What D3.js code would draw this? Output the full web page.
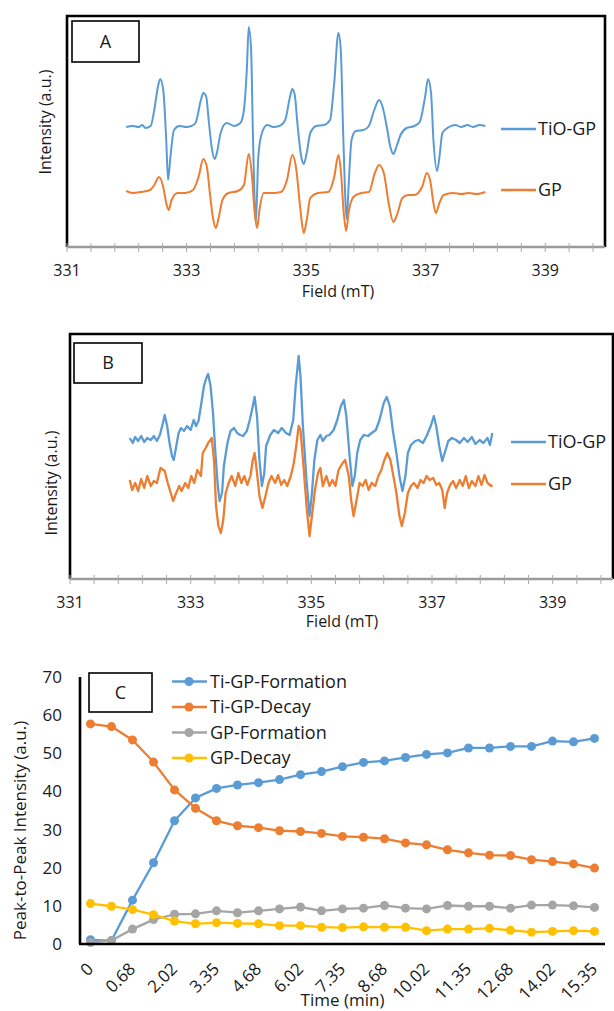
<!DOCTYPE html>
<html>
<head>
<meta charset="utf-8">
<script src="https://cdn.jsdelivr.net/npm/d3@7"></script>
<style>
  html, body { margin: 0; padding: 0; background: #fff; }
  svg text { font-family: "Open Sans", "DejaVu Sans", sans-serif; fill: #1a1a1a; }
</style>
</head>
<body>
<div id="chart"></div>
<script>
// ---- data ----
const fieldTicks = [331, 333, 335, 337, 339];
const seriesNamesAB = ['TiO-GP', 'GP'];

// Panel A spectra: [field (mT), intensity (a.u., offset included)]
const tioGpA = [[331.99,120],[332.10,121],[332.20,120],[332.26,122],[332.31,119],[332.40,121],[332.46,137],[332.52,160],[332.56,168],[332.61,157],[332.66,107],[332.69,67],[332.73,90],[332.79,117],[332.88,121],[333.00,120],[333.08,121],[333.15,124],[333.24,147],[333.28,154],[333.33,150],[333.37,127],[333.42,100],[333.47,88],[333.51,95],[333.57,114],[333.67,124],[333.80,121],[333.90,124],[333.96,137],[334.01,180],[334.04,220],[334.08,197],[334.11,113],[334.16,25],[334.20,90],[334.26,114],[334.35,122],[334.45,120],[334.55,121],[334.65,127],[334.73,150],[334.77,158],[334.81,152],[334.86,120],[334.92,90],[334.96,83],[335.01,94],[335.07,114],[335.17,121],[335.30,122],[335.40,127],[335.47,164],[335.54,214],[335.58,197],[335.62,114],[335.68,28],[335.71,60],[335.76,107],[335.83,116],[335.96,117],[336.05,121],[336.14,137],[336.22,147],[336.28,140],[336.35,120],[336.41,100],[336.46,93],[336.51,100],[336.58,112],[336.68,119],[336.81,121],[336.90,125],[336.99,150],[337.04,168],[337.09,154],[337.13,107],[337.19,76],[337.23,90],[337.28,114],[337.39,120],[337.50,122],[337.59,120],[337.70,122],[337.79,120],[337.90,122],[338.00,121]];

const gpA = [[331.99,56],[332.10,54],[332.23,55],[332.39,57],[332.46,62],[332.54,70],[332.61,60],[332.66,44],[332.70,37],[332.75,47],[332.85,54],[332.98,54],[333.11,57],[333.20,70],[333.28,88],[333.34,80],[333.39,54],[333.44,30],[333.49,19],[333.54,30],[333.60,47],[333.70,54],[333.86,56],[333.96,62],[334.04,93],[334.09,74],[334.14,34],[334.18,19],[334.22,37],[334.29,54],[334.45,54],[334.58,55],[334.68,67],[334.77,92],[334.83,80],[334.90,40],[334.96,14],[335.01,27],[335.07,49],[335.20,54],[335.37,55],[335.47,70],[335.54,92],[335.58,77],[335.63,34],[335.67,16],[335.71,34],[335.79,50],[335.92,54],[336.05,55],[336.15,74],[336.22,82],[336.30,74],[336.38,44],[336.46,25],[336.53,34],[336.61,49],[336.71,52],[336.81,52],[336.94,60],[337.02,74],[337.08,65],[337.13,44],[337.17,34],[337.23,44],[337.30,52],[337.46,54],[337.60,53],[337.72,54],[337.85,53],[338.00,55]];

// Panel B spectra (noisy)
const tioGpB = [[331.99,141],[332.04,136],[332.08,142],[332.13,138],[332.18,143],[332.23,137],[332.28,141],[332.34,139],[332.39,143],[332.44,138],[332.49,144],[332.54,156],[332.57,164],[332.61,153],[332.65,136],[332.69,123],[332.72,119],[332.75,129],[332.80,146],[332.84,151],[332.89,148],[332.94,153],[333.00,149],[333.05,159],[333.09,153],[333.13,158],[333.17,173],[333.22,193],[333.26,201],[333.29,205],[333.33,193],[333.37,166],[333.41,126],[333.45,93],[333.48,78],[333.52,86],[333.55,113],[333.61,136],[333.66,148],[333.72,151],[333.77,146],[333.82,144],[333.87,143],[333.93,148],[333.98,159],[334.03,173],[334.06,182],[334.10,163],[334.14,119],[334.18,93],[334.22,106],[334.25,133],[334.32,144],[334.38,149],[334.45,146],[334.51,151],[334.58,146],[334.64,144],[334.70,159],[334.74,193],[334.79,223],[334.82,203],[334.86,153],[334.92,99],[334.97,63],[335.01,86],[335.05,119],[335.10,139],[335.15,144],[335.19,138],[335.25,143],[335.30,144],[335.37,149],[335.43,159],[335.49,173],[335.54,179],[335.58,163],[335.63,126],[335.68,93],[335.72,103],[335.76,126],[335.81,139],[335.87,144],[335.94,143],[336.00,146],[336.07,149],[336.13,159],[336.20,176],[336.25,182],[336.30,173],[336.35,149],[336.41,126],[336.46,103],[336.51,88],[336.56,103],[336.60,126],[336.65,134],[336.72,138],[336.78,139],[336.85,136],[336.91,143],[336.98,153],[337.03,163],[337.07,153],[337.12,133],[337.17,118],[337.22,128],[337.27,138],[337.33,141],[337.40,139],[337.46,136],[337.53,141],[337.59,137],[337.66,142],[337.72,135],[337.79,139],[337.85,136],[337.92,141],[337.96,134],[338.00,146]];

const gpB = [[331.99,99],[332.03,89],[332.08,96],[332.13,88],[332.18,100],[332.23,91],[332.28,103],[332.34,93],[332.39,98],[332.44,96],[332.50,111],[332.57,108],[332.62,96],[332.67,86],[332.71,78],[332.76,86],[332.81,93],[332.85,88],[332.91,96],[332.96,91],[333.01,103],[333.06,96],[333.11,109],[333.17,103],[333.20,126],[333.25,131],[333.29,136],[333.35,141],[333.39,116],[333.42,73],[333.46,53],[333.50,46],[333.54,59],[333.58,86],[333.63,96],[333.68,103],[333.74,93],[333.79,106],[333.84,96],[333.89,103],[333.94,94],[333.99,103],[334.03,119],[334.06,126],[334.10,106],[334.14,83],[334.19,71],[334.24,83],[334.29,96],[334.34,103],[334.40,96],[334.45,104],[334.50,94],[334.55,99],[334.60,93],[334.66,103],[334.71,116],[334.75,133],[334.79,153],[334.82,149],[334.87,113],[334.92,73],[334.97,43],[335.01,63],[335.06,89],[335.11,106],[335.15,111],[335.19,93],[335.25,103],[335.30,93],[335.35,99],[335.40,93],[335.45,109],[335.52,116],[335.56,119],[335.62,103],[335.66,79],[335.70,63],[335.75,79],[335.80,96],[335.85,93],[335.90,99],[335.95,89],[336.00,96],[336.06,93],[336.11,103],[336.16,109],[336.21,119],[336.26,126],[336.31,119],[336.36,103],[336.41,86],[336.46,63],[336.50,53],[336.55,66],[336.60,86],[336.65,93],[336.70,96],[336.76,91],[336.81,99],[336.86,96],[336.91,103],[336.96,99],[337.02,101],[337.07,94],[337.12,96],[337.17,89],[337.21,71],[337.25,86],[337.30,94],[337.35,98],[337.40,91],[337.46,99],[337.51,93],[337.56,103],[337.61,91],[337.66,98],[337.72,93],[337.77,103],[337.82,94],[337.87,104],[337.92,96],[337.98,93],[338.00,94]];

// Panel C kinetics
const timeLabels = ['0','0.01','0.68','1.35','2.02','2.68','3.35','4.02','4.68','5.35','6.02','6.68','7.35','8.02','8.68','9.35','10.02','10.68','11.35','12.02','12.68','13.35','14.02','14.68','15.35'];
const tiGpFormation = [1.1, 0.9, 11.5, 21.3, 32.3, 38.3, 40.8, 41.7, 42.3, 43.1, 44.4, 45.2, 46.5, 47.6, 48.0, 48.9, 49.7, 50.1, 51.4, 51.4, 51.8, 51.8, 53.2, 53.0, 53.9];
const tiGpDecay = [57.7, 57.0, 53.5, 47.7, 40.4, 35.6, 32.3, 31.0, 30.5, 29.7, 29.5, 29.0, 28.2, 28.0, 27.6, 26.5, 26.0, 24.7, 23.9, 23.3, 23.2, 22.1, 21.6, 21.0, 19.9];
const gpFormation = [0.4, 0.9, 3.9, 6.4, 7.8, 7.9, 8.7, 8.2, 8.7, 9.2, 9.7, 8.7, 9.2, 9.4, 10.1, 9.4, 9.2, 10.1, 9.9, 9.9, 9.4, 10.2, 10.2, 10.0, 9.6];
const gpDecay = [10.6, 9.9, 9.0, 7.7, 6.0, 5.3, 5.6, 5.4, 5.3, 4.8, 4.8, 4.4, 4.3, 4.5, 4.4, 4.4, 3.5, 3.9, 3.9, 4.1, 3.6, 3.1, 3.3, 3.5, 3.3];
const seriesNamesC = ['Ti-GP-Formation', 'Ti-GP-Decay', 'GP-Formation', 'GP-Decay'];
const yTicksC = [0, 10, 20, 30, 40, 50, 60, 70];

const colors = ['#5B9BD5', '#ED7D31', '#A5A5A5', '#FFC000'];

// ---- drawing ----
const svg = d3.select('#chart').append('svg')
    .attr('width', 614)
    .attr('height', 1011);

svg.append('rect').attr('width', 614).attr('height', 1011).attr('fill', '#fff');

function spectrumPanel(opt) {
    const f = opt.frame;
    const g = svg.append('g');

    const x = d3.scaleLinear().domain([331, 340]).range([f.left, f.right]);
    const y = d3.scaleLinear().domain([0, opt.yMax]).range([f.bottom, f.top]);

    // black frame (top, left, right)
    g.append('path')
        .attr('d', `M${f.left},${f.bottom}V${f.top}H${f.right}V${f.bottom}`)
        .attr('fill', 'none')
        .attr('stroke', '#000')
        .attr('stroke-width', 2.6);

    // gray bottom axis with crossing ticks every 0.4 mT
    g.append('line')
        .attr('x1', f.left).attr('x2', f.right)
        .attr('y1', f.bottom).attr('y2', f.bottom)
        .attr('stroke', '#9a9a9a')
        .attr('stroke-width', 2.6);

    const minor = d3.range(0, 23).map(i => 331 + i * 0.4);
    g.selectAll('.minor')
        .data(minor)
        .enter()
        .append('line')
        .attr('x1', d => x(d)).attr('x2', d => x(d))
        .attr('y1', f.bottom - 4).attr('y2', f.bottom + 5)
        .attr('stroke', '#aaa')
        .attr('stroke-width', 1);

    g.selectAll('.tick-label')
        .data(fieldTicks)
        .enter()
        .append('text')
        .attr('x', d => x(d))
        .attr('y', f.bottom + 23)
        .attr('dy', '0.35em')
        .attr('text-anchor', 'middle')
        .style('font-size', '16px')
        .text(d => d);

    // axis titles
    g.append('text')
        .attr('x', opt.xTitle[0]).attr('y', opt.xTitle[1])
        .attr('dy', '0.35em')
        .attr('text-anchor', 'middle')
        .style('font-size', '16px')
        .text('Field (mT)');

    g.append('text')
        .attr('transform', `translate(${opt.yTitle[0]},${opt.yTitle[1]}) rotate(-90)`)
        .attr('dy', '0.35em')
        .attr('text-anchor', 'middle')
        .style('font-size', '16px')
        .text('Intensity (a.u.)');

    // spectra
    const line = d3.line()
        .x(d => x(d[0]))
        .y(d => y(d[1]))
        .curve(opt.curve);

    opt.series.forEach((s, i) => {
        g.append('path')
            .datum(s)
            .attr('fill', 'none')
            .attr('stroke', colors[i])
            .attr('stroke-width', opt.lineWidth)
            .attr('stroke-linejoin', 'round')
            .attr('d', line);
    });

    // legend
    seriesNamesAB.forEach((name, i) => {
        const ly = opt.legend.y[i];
        g.append('line')
            .attr('x1', opt.legend.x).attr('x2', opt.legend.x + 35)
            .attr('y1', ly).attr('y2', ly)
            .attr('stroke', colors[i])
            .attr('stroke-width', 2.4);
        g.append('text')
            .attr('x', opt.legend.x + 37)
            .attr('y', ly)
            .attr('dy', '0.35em')
            .style('font-size', '18px')
            .text(name);
    });

    // panel label box
    const b = opt.box;
    g.append('rect')
        .attr('x', b.x).attr('y', b.y)
        .attr('width', b.w).attr('height', b.h)
        .attr('fill', '#fff')
        .attr('stroke', '#000')
        .attr('stroke-width', 1.6);
    g.append('text')
        .attr('x', b.x + b.w / 2).attr('y', b.y + b.h / 2)
        .attr('dy', '0.35em')
        .attr('text-anchor', 'middle')
        .style('font-size', '18px')
        .text(opt.label);
}

spectrumPanel({
    label: 'A',
    frame: { left: 67, right: 605, top: 16, bottom: 247 },
    yMax: 231,
    series: [tioGpA, gpA],
    curve: d3.curveMonotoneX,
    lineWidth: 2,
    legend: { x: 501, y: [129, 190] },
    box: { x: 72, y: 21, w: 67, h: 41 },
    xTitle: [338, 291],
    yTitle: [45, 122]
});

spectrumPanel({
    label: 'B',
    frame: { left: 70, right: 613, top: 334, bottom: 579 },
    yMax: 245,
    series: [tioGpB, gpB],
    curve: d3.curveLinear,
    lineWidth: 2.3,
    legend: { x: 511, y: [442, 484] },
    box: { x: 74, y: 343, w: 68, h: 40 },
    xTitle: [342, 621],
    yTitle: [51, 483]
});

// ---- panel C ----
(function kineticsPanel() {
    const left = 80, right = 605, top = 677, bottom = 944;
    const g = svg.append('g');

    const x = d3.scaleBand().domain(timeLabels).range([left, right]);
    const cx = d => x(d) + x.bandwidth() / 2;
    const y = d3.scaleLinear().domain([0, 70]).range([bottom, top]);

    // y tick labels
    g.selectAll('.ytl')
        .data(yTicksC)
        .enter()
        .append('text')
        .attr('x', 62)
        .attr('y', d => y(d))
        .attr('dy', '0.35em')
        .attr('text-anchor', 'end')
        .style('font-size', '17px')
        .text(d => d);

    // x tick labels, every other category, rotated
    g.selectAll('.xtl')
        .data(timeLabels.filter((d, i) => i % 2 === 0))
        .enter()
        .append('text')
        .attr('transform', d => `translate(${cx(d) + 4},${bottom + 26}) rotate(-45)`)
        .attr('text-anchor', 'end')
        .style('font-size', '17px')
        .text(d => d);

    g.append('text')
        .attr('x', (left + right) / 2)
        .attr('y', 1006)
        .attr('text-anchor', 'middle')
        .style('font-size', '17px')
        .text('Time (min)');

    g.append('text')
        .attr('transform', `translate(20,${(top + bottom) / 2 + 20}) rotate(-90)`)
        .attr('dy', '0.35em')
        .attr('text-anchor', 'middle')
        .style('font-size', '17px')
        .text('Peak-to-Peak Intensity (a.u.)');

    // series
    const seriesC = [tiGpFormation, tiGpDecay, gpFormation, gpDecay];
    const line = d3.line()
        .x((d, i) => cx(timeLabels[i]))
        .y(d => y(d));

    seriesC.forEach((vals, k) => {
        g.append('path')
            .datum(vals)
            .attr('fill', 'none')
            .attr('stroke', colors[k])
            .attr('stroke-width', 2.3)
            .attr('stroke-linejoin', 'round')
            .attr('d', line);
        g.selectAll(`.pt${k}`)
            .data(vals)
            .enter()
            .append('circle')
            .attr('cx', (d, i) => cx(timeLabels[i]))
            .attr('cy', d => y(d))
            .attr('r', 4.5)
            .attr('fill', colors[k]);
    });

    // axes lines
    g.append('line')
        .attr('x1', left).attr('x2', left)
        .attr('y1', top).attr('y2', bottom)
        .attr('stroke', '#000').attr('stroke-width', 2.6);
    g.append('line')
        .attr('x1', left - 1).attr('x2', right)
        .attr('y1', bottom).attr('y2', bottom)
        .attr('stroke', '#000').attr('stroke-width', 2.6);

    // legend
    seriesNamesC.forEach((name, k) => {
        const ly = 681.5 + k * 25.5;
        g.append('line')
            .attr('x1', 172).attr('x2', 207)
            .attr('y1', ly).attr('y2', ly)
            .attr('stroke', colors[k]).attr('stroke-width', 2.3);
        g.append('circle')
            .attr('cx', 189).attr('cy', ly).attr('r', 4.5)
            .attr('fill', colors[k]);
        g.append('text')
            .attr('x', 210).attr('y', ly)
            .attr('dy', '0.35em')
            .style('font-size', '18px')
            .text(name);
    });

    // panel label box
    g.append('rect')
        .attr('x', 89).attr('y', 673)
        .attr('width', 63).attr('height', 39)
        .attr('fill', '#fff')
        .attr('stroke', '#000')
        .attr('stroke-width', 1.6);
    g.append('text')
        .attr('x', 120.5).attr('y', 692.5)
        .attr('dy', '0.35em')
        .attr('text-anchor', 'middle')
        .style('font-size', '18px')
        .text('C');
})();
</script>
</body>
</html>
